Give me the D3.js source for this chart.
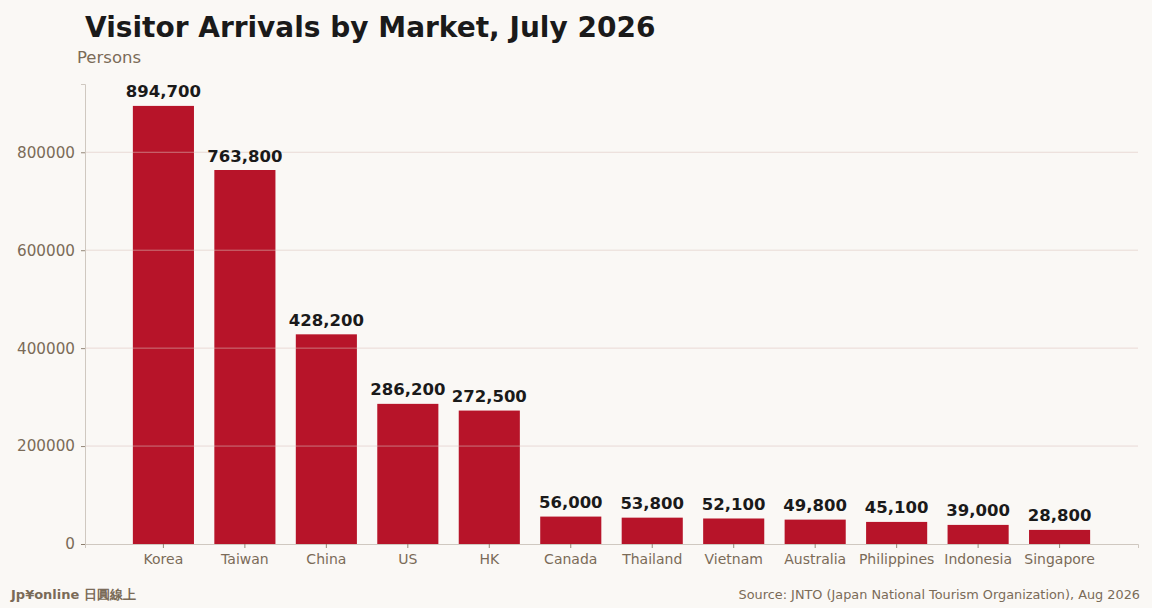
<!DOCTYPE html>
<html>
<head>
<meta charset="utf-8">
<script src="https://cdn.jsdelivr.net/npm/d3@7"></script>
<style>
	html, body { margin: 0; padding: 0; background: #faf8f5; }
	svg { display: block; font-family: 'DejaVu Sans', sans-serif; }
</style>
</head>
<body>
<svg id="chart" width="1152" height="608"></svg>
<script>
const markets = ['Korea', 'Taiwan', 'China', 'US', 'HK', 'Canada', 'Thailand', 'Vietnam', 'Australia', 'Philippines', 'Indonesia', 'Singapore'];
const arrivals = [894700, 763800, 428200, 286200, 272500, 56000, 53800, 52100, 49800, 45100, 39000, 28800];
const yTicks = [0, 200000, 400000, 600000, 800000];

const W = 1152;
const H = 608;
const margin = { top: 84, right: 14, bottom: 64, left: 85 };
const barColor = '#b71429';
const mutedText = '#7a6b58';

const svg = d3.select('#chart');
svg.append('rect').attr('width', W).attr('height', H).attr('fill', '#faf8f5');

const data = markets.map((m, i) => ({ market: m, value: arrivals[i] }));

const x = d3.scaleBand()
	.domain(markets)
	.range([margin.left, W - margin.right])
	.paddingInner(0.25)
	.paddingOuter(0.5875);

const y = d3.scaleLinear()
	.domain([0, d3.max(arrivals) * 1.05])
	.range([H - margin.bottom, margin.top]);

// bars
svg.append('g').selectAll('rect')
	.data(data).enter().append('rect')
	.attr('x', d => x(d.market)).attr('width', x.bandwidth())
	.attr('y', d => y(d.value)).attr('height', d => y(0) - y(d.value))
	.attr('fill', barColor);

// horizontal grid, drawn over the bars
svg.append('g').selectAll('line')
	.data(yTicks.filter(t => t > 0)).enter().append('line')
	.attr('x1', margin.left).attr('x2', W - margin.right)
	.attr('y1', d => y(d)).attr('y2', d => y(d))
	.attr('stroke', '#dcc4be').attr('stroke-opacity', 0.7).attr('stroke-width', 0.8);

// axes
const yAxis = svg.append('g')
	.attr('transform', `translate(${margin.left},0)`)
	.call(d3.axisLeft(y).tickValues(yTicks).tickFormat(d3.format('d')).tickSize(4).tickPadding(6));
const xAxis = svg.append('g')
	.attr('transform', `translate(0,${y(0)})`)
	.call(d3.axisBottom(x).tickSize(4).tickPadding(6));

[yAxis, xAxis].forEach(ax => {
	ax.select('.domain').attr('stroke', '#cfc8c0').attr('stroke-width', 1);
	ax.selectAll('.tick line').attr('stroke', mutedText).attr('stroke-width', 0.8);
	ax.selectAll('.tick text').attr('fill', mutedText)
		.style('font-family', "'DejaVu Sans', sans-serif").style('font-size', '14px');
});
yAxis.selectAll('.tick text').style('font-size', '15.2px');

// value labels
svg.append('g').selectAll('text')
	.data(data).enter().append('text')
	.attr('x', d => x(d.market) + x.bandwidth() / 2)
	.attr('y', d => y(d.value) - 8.5)
	.attr('text-anchor', 'middle')
	.attr('fill', '#1a1a1a')
	.style('font-size', '16.5px').style('font-weight', 'bold')
	.text(d => d3.format(',')(d.value));

// titles
svg.append('text')
	.attr('x', 85).attr('y', 37)
	.attr('fill', '#1a1a1a')
	.style('font-size', '28px').style('font-weight', 'bold')
	.text('Visitor Arrivals by Market, July 2026');
svg.append('text')
	.attr('x', 77).attr('y', 63)
	.attr('fill', mutedText)
	.style('font-size', '16.5px')
	.text('Persons');

// footer
svg.append('text')
	.attr('x', 11).attr('y', 599)
	.attr('fill', mutedText)
	.style('font-size', '13px').style('font-weight', 'bold')
	.text('Jp¥online 日圓線上');
svg.append('text')
	.attr('x', 1140).attr('y', 599)
	.attr('text-anchor', 'end')
	.attr('fill', mutedText)
	.style('font-size', '12.85px')
	.text('Source: JNTO (Japan National Tourism Organization), Aug 2026');
</script>
</body>
</html>
